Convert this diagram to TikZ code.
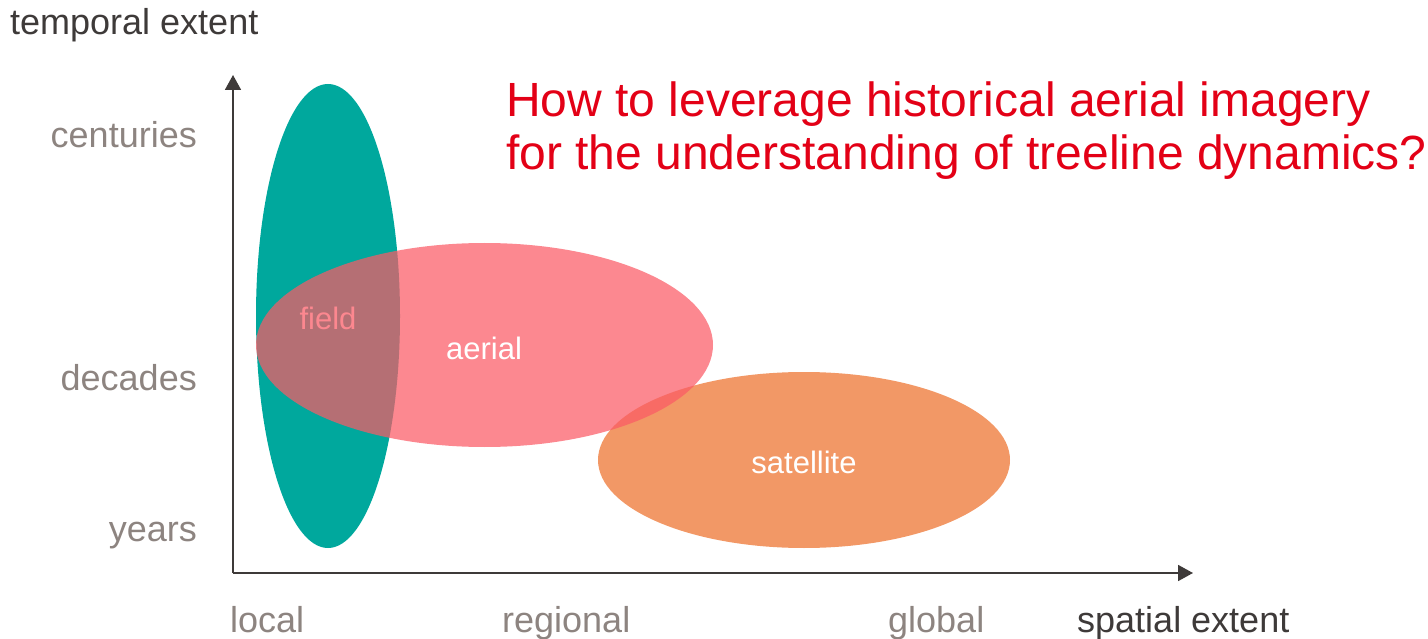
\documentclass[tikz,border=0pt]{standalone}
\usepackage{fontspec}
\setmainfont{Liberation Sans}
\usetikzlibrary{arrows.meta,shapes.geometric}
\definecolor{tealc}{RGB}{0,168,157}
\definecolor{pinkc}{RGB}{251,90,101}
\definecolor{orangec}{RGB}{242,152,102}
\definecolor{titlered}{RGB}{227,0,22}
\definecolor{labgray}{RGB}{141,132,128}
\definecolor{axisdark}{RGB}{62,58,57}
\tikzset{
  blob/.style={ellipse, inner sep=0pt, draw=none},
  ticklab/.style={text=labgray, font=\fontsize{36}{43}\selectfont, inner sep=0pt},
  axlab/.style={text=axisdark, font=\fontsize{36}{43}\selectfont, inner sep=0pt},
  inlab/.style={text=white, font=\fontsize{31}{37}\selectfont, inner sep=0pt},
  titlelab/.style={text=titlered, font=\fontsize{48}{54}\selectfont, inner sep=0pt, anchor=base west},
  axisline/.style={draw=axisdark, line width=1.8pt, -{Triangle[length=15pt,width=16pt]}}
}
\begin{document}
\begin{tikzpicture}[x=1pt,y=-1pt]
\useasboundingbox (0,0) rectangle (1428,639);
% ellipses
\node[blob, fill=tealc, minimum width=144pt, minimum height=464pt] (field) at (328,316) {};
\node[blob, fill=orangec, minimum width=412pt, minimum height=176pt] (satellite) at (804,460) {};
\node[inlab, text=white] (fieldlab) at (328,318) {field};
\node[blob, fill=pinkc, fill opacity=0.72, minimum width=457pt, minimum height=204pt] (aerial) at (484.5,345) {};
\node[inlab] (aeriallab) at (484,348) {aerial};
\node[inlab] (satlab) at (804,462) {satellite};
% axes
\coordinate (origin) at (233,573);
\coordinate (ytip) at (233,75);
\coordinate (xtip) at (1193,573);
\draw[axisline] (origin) -- (ytip);
\draw[axisline] (origin) -- (xtip);
% axis labels
\node[axlab, anchor=base west] (ylab) at (10,35) {temporal extent};
\node[axlab, anchor=base west] (xlab) at (1077,632) {spatial extent};
\node[ticklab, anchor=base east] (cent) at (197,148) {centuries};
\node[ticklab, anchor=base east] (dec) at (197,390) {decades};
\node[ticklab, anchor=base east] (yrs) at (197,541) {years};
\node[ticklab, anchor=base west] (loc) at (230,632) {local};
\node[ticklab, anchor=base west] (reg) at (502,632) {regional};
\node[ticklab, anchor=base west] (glob) at (888,632) {global};
% title
\node[titlelab] (title1) at (506,117) {How to leverage historical aerial imagery};
\node[titlelab] (title2) at (506,170) {for the understanding of treeline dynamics?};
\end{tikzpicture}
\end{document}
